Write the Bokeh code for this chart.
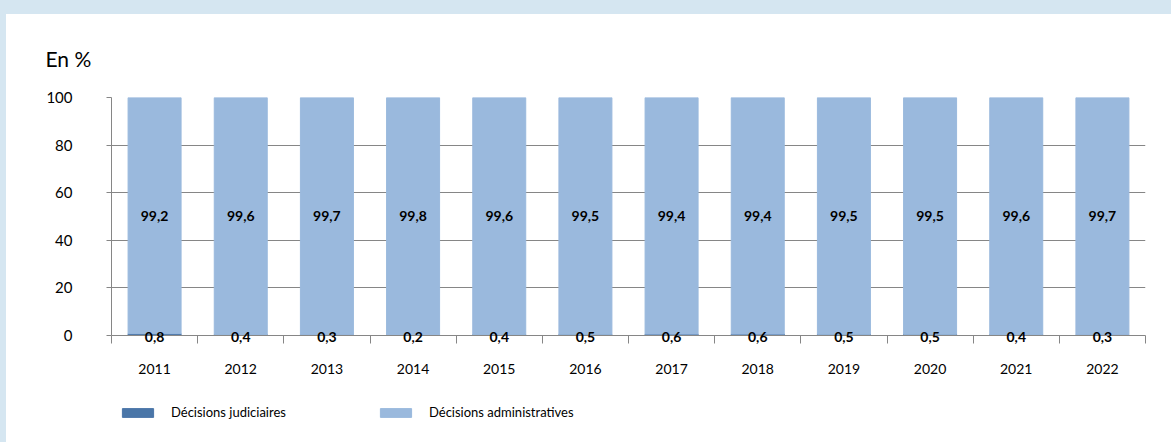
from bokeh.plotting import figure
from bokeh.layouts import column
from bokeh.models import (ColumnDataSource, FixedTicker, LabelSet, Legend, LegendItem,
                          GlobalInlineStyleSheet, Title, LinearAxis)
from bokeh.core.properties import value
from bokeh.embed import file_html
from bokeh.resources import INLINE

years = ["2011", "2012", "2013", "2014", "2015", "2016", "2017", "2018", "2019", "2020", "2021", "2022"]
judiciaires = [0.8, 0.4, 0.3, 0.2, 0.4, 0.5, 0.6, 0.6, 0.5, 0.5, 0.4, 0.3]
administratives = [99.2, 99.6, 99.7, 99.8, 99.6, 99.5, 99.4, 99.4, 99.5, 99.5, 99.6, 99.7]
y_ticks = [0, 20, 40, 60, 80, 100]
series = ["Décisions judiciaires", "Décisions administratives"]

FONT = "Lato"
DARK = "#4a76a8"
LIGHT = "#9ab9dd"
GRID = "#868686"

n = len(years)
xc = [i + 0.5 for i in range(n)]
top_j = judiciaires
top_a = [j + a for j, a in zip(judiciaires, administratives)]

fmt = lambda v: ("%.1f" % v).replace(".", ",")
src = ColumnDataSource(dict(
    x=xc, top_j=top_j, top_a=top_a,
    mid_a=[j + a / 2 for j, a in zip(judiciaires, administratives)],
    lab_a=[fmt(v) for v in administratives],
))

css = GlobalInlineStyleSheet(css="html,body{margin:0;padding:0;overflow:hidden;background:#d5e6f1;} body{padding:14px 0 0 6px;}")

p = figure(frame_width=1034, frame_height=238, x_range=(0, n), y_range=(0, 100),
           output_backend="svg", toolbar_location=None,
           min_border_left=105, min_border_right=26, min_border_top=83, min_border_bottom=50,
           background_fill_color="white", border_fill_color="white", outline_line_color=None)
p.stylesheets = [css]

p.add_layout(Title(text="En %", align="left", offset=-66, standoff=54, text_font=FONT,
                   text_font_size="21px", text_font_style="normal", text_color="black"), "above")

r1 = p.vbar(x="x", bottom=0, top="top_j", width=0.615, color=DARK, source=src)
r2 = p.vbar(x="x", bottom="top_j", top="top_a", width=0.615, color=LIGHT, source=src)

p.xgrid.visible = False
p.ygrid.ticker = FixedTicker(ticks=y_ticks)
p.ygrid.grid_line_color = GRID
p.ygrid.level = "underlay"

yax = p.yaxis[0]
yax.ticker = FixedTicker(ticks=y_ticks)
yax.axis_line_color = GRID
yax.major_tick_line_color = GRID
yax.major_tick_out = 5
yax.major_tick_in = 0
yax.minor_tick_line_color = None
yax.major_label_standoff = 34
yax.major_label_text_font = FONT
yax.major_label_text_font_size = "15px"
yax.major_label_text_color = "black"

# axis line with category separators; carries the small "judiciaires" values
xax = p.xaxis[0]
xax.ticker = FixedTicker(ticks=xc, minor_ticks=list(range(n + 1)))
xax.major_label_overrides = {x: fmt(v) for x, v in zip(xc, judiciaires)}
xax.axis_line_color = GRID
xax.major_tick_line_color = None
xax.major_tick_out = 0
xax.major_tick_in = 0
xax.minor_tick_line_color = GRID
xax.minor_tick_out = 8
xax.minor_tick_in = 0
xax.major_label_standoff = -12
xax.major_label_text_font = FONT
xax.major_label_text_font_size = "14px"
xax.major_label_text_font_style = "bold"
xax.major_label_text_color = "black"

# year labels
yr = LinearAxis(ticker=FixedTicker(ticks=xc, minor_ticks=[]),
                major_label_overrides={x: y for x, y in zip(xc, years)},
                axis_line_color=None, major_tick_line_color=None, minor_tick_line_color=None,
                major_tick_out=0, major_tick_in=0, minor_tick_out=0, minor_tick_in=0,
                major_label_standoff=19, major_label_text_font=FONT,
                major_label_text_font_size="14px", major_label_text_color="black")
p.add_layout(yr, "below")

p.add_layout(LabelSet(x="x", y="mid_a", text="lab_a", source=src, text_align="center",
                      text_baseline="middle", text_font=value(FONT),
                      text_font_size=value("14px"), text_font_style=value("bold"),
                      text_color=value("black")))

# legend strip: hidden copies of the series glyphs provide the legend swatches
pl = figure(width=1165, height=57, x_range=(0, n), y_range=(-20, -10),
            x_axis_type=None, y_axis_type=None, output_backend="svg", toolbar_location=None,
            min_border_left=0, min_border_right=0, min_border_top=0, min_border_bottom=0,
            background_fill_color="white", border_fill_color="white", outline_line_color=None)
l1 = pl.vbar(x="x", bottom=0, top="top_j", width=0.615, color=DARK, source=src, visible=False)
l2 = pl.vbar(x="x", bottom="top_j", top="top_a", width=0.615, color=LIGHT, source=src, visible=False)
legend = Legend(items=[LegendItem(label=series[0], renderers=[l1]),
                       LegendItem(label=series[1], renderers=[l2])],
                location=(7, 22), orientation="horizontal", padding=0, margin=0, spacing=10,
                border_line_color=None, background_fill_alpha=0, glyph_width=39, glyph_height=11,
                label_standoff=14, label_width=195, label_height=11, click_policy="none",
                label_text_font=FONT, label_text_font_size="13px", label_text_color="black")
pl.add_layout(legend, "center")

layout = column(p, pl, spacing=0, styles={"background-color": "white"})
open("out.html", "w").write(file_html(layout, INLINE))
